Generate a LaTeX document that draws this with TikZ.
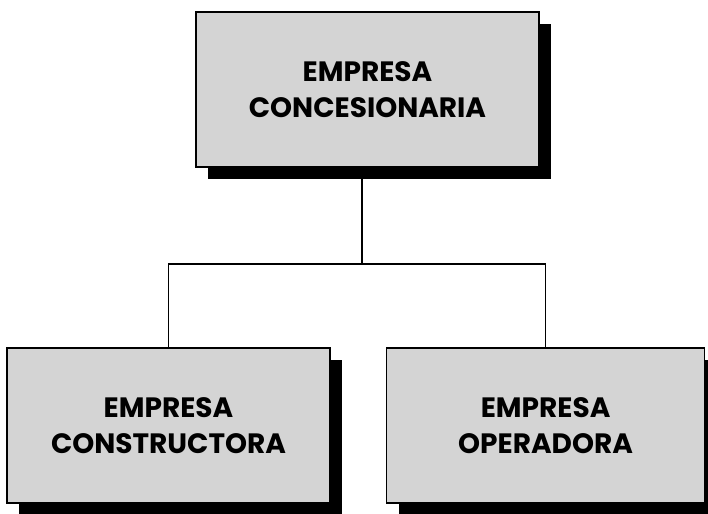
\documentclass[tikz,border=0pt]{standalone}
\usepackage{fontspec}
\setmainfont{Poppins}
\usetikzlibrary{positioning,shadows}

\begin{document}
\begin{tikzpicture}
          [x=1pt, y=1pt,
          empresa/.style={draw=black, line width=1.6pt, fill=black!17, align=center,
              minimum width=320pt, minimum height=155pt, inner sep=2pt,
              font=\bfseries\fontsize{28}{36}\selectfont,
              drop shadow={shadow xshift=12pt, shadow yshift=-12pt, fill=black, opacity=1}},
          line/.style={draw, line width=1.3pt}]
          \useasboundingbox (0,0) rectangle (708,-513);

          \node [empresa, minimum width=343pt] (concesionaria) at (367.5,-89.5) {EMPRESA\\CONCESIONARIA};
          \node [empresa, minimum width=323pt] (constructora) at (168.5,-425.5) {EMPRESA\\CONSTRUCTORA};
          \node [empresa, minimum width=318pt, right=55pt of constructora] (operadora) {EMPRESA\\OPERADORA};

          \coordinate (junction) at (362,-264);
          \begin{scope}[every path/.style=line]
              \path (concesionaria.south -| junction) -- (junction);
              \path (junction) -| (constructora.north);
              \path (junction) -| (operadora.north);
          \end{scope}
  \end{tikzpicture}
\end{document}
